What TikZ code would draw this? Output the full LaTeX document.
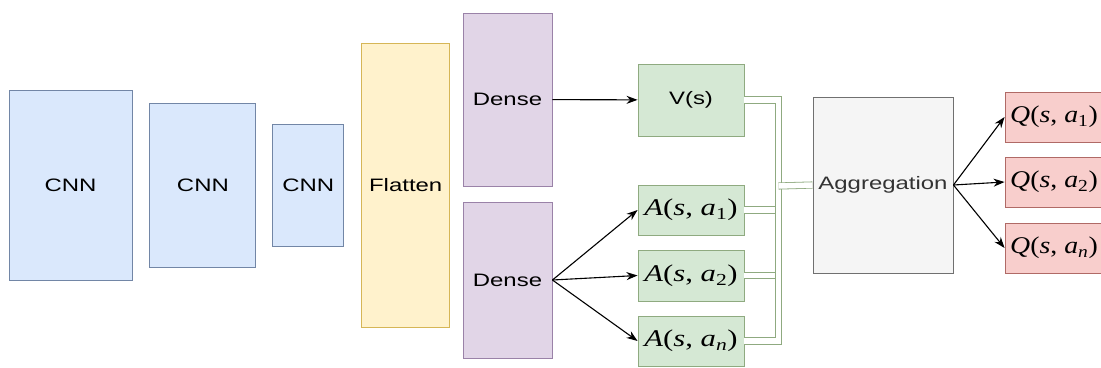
\documentclass[tikz,border=0pt]{standalone}
\usepackage{fontspec}
\usepackage{graphicx}
\newfontfamily\arialfont{Liberation Sans}
\newfontfamily\timesfont{Liberation Serif}
\usetikzlibrary{arrows.meta, positioning}

\definecolor{cnnfill}{HTML}{DAE8FC}
\definecolor{cnnline}{HTML}{7286A6}
\definecolor{flatfill}{HTML}{FFF2CC}
\definecolor{flatline}{HTML}{D6B656}
\definecolor{densefill}{HTML}{E1D5E7}
\definecolor{denseline}{HTML}{9A82A8}
\definecolor{headfill}{HTML}{D5E8D4}
\definecolor{headline}{HTML}{8FAA80}
\definecolor{aggfill}{HTML}{F5F5F5}
\definecolor{aggline}{HTML}{707070}
\definecolor{qfill}{HTML}{F8CECC}
\definecolor{qline}{HTML}{B06A66}

% wide sans labels and stretched function labels
\newcommand{\wlabel}[1]{\scalebox{1.33}[1]{\arialfont #1}}
\newcommand{\fnlabel}[3]{\scalebox{#1}[1]{\timesfont\textit{#2}(\textit{s}, \textit{a}\textsubscript{#3})}}

\begin{document}
\begin{tikzpicture}[
			x=1pt, y=-1pt,
			box/.style={draw, line width=0.9pt, inner sep=0pt, text=black, font=\fontsize{18}{20}\selectfont},
			cnn/.style={box, draw=cnnline, fill=cnnfill},
			flat/.style={box, draw=flatline, fill=flatfill},
			dense/.style={box, draw=denseline, fill=densefill, minimum width=89pt},
			head/.style={box, draw=headline, fill=headfill, minimum width=106pt, font=\fontsize{24}{26}\selectfont},
			agg/.style={box, draw=aggline, fill=aggfill},
			qval/.style={box, draw=qline, fill=qfill, minimum width=98pt, minimum height=50pt, font=\fontsize{24}{26}\selectfont},
			edge/.style={-{Stealth[length=11pt, width=8pt]}, line width=1.1pt},
			link/.style={draw=headline, line width=0.8pt, double=white, double distance=5.5pt}
			]
			\useasboundingbox (0,0) rectangle (1101,367);
			
			% ---------------- FEATURE EXTRACTOR ----------------
			\node[cnn, minimum width=123pt, minimum height=190pt] (cnnA) at (70.5,185) {\wlabel{CNN}};
			\node[cnn, minimum width=106pt, minimum height=164pt, right=17pt of cnnA] (cnnB) {\wlabel{CNN}};
			\node[cnn, minimum width=71pt, minimum height=122pt, right=16pt of cnnB] (cnnC) {\wlabel{CNN}};
			\node[flat, minimum width=88pt, minimum height=284pt, right=17pt of cnnC] (flat) {\wlabel{Flatten}};
			
			% ---------------- TWO STREAMS ----------------
			\node[dense, minimum height=173pt] (denseV) at (507.5,99.5) {\wlabel{Dense}};
			\node[dense, minimum height=156pt] (denseA) at (507.5,280) {\wlabel{Dense}};
			
			\node[head, minimum height=72pt, font=\fontsize{18}{20}\selectfont] (vs) at (691,100) {\wlabel{V(s)}};
			\node[head, minimum height=50pt] (advA) at (691,210) {\fnlabel{1.28}{A}{1}};
			\node[head, minimum height=51pt] (advB) at (691,275.5) {\fnlabel{1.28}{A}{2}};
			\node[head, minimum height=50pt] (advN) at (691,341) {\fnlabel{1.28}{A}{\textit{n}}};
			
			\draw[edge] (denseV) -- (vs);
			\draw[edge] (denseA.east) -- (advA.west);
			\draw[edge] (denseA.east) -- (advB.west);
			\draw[edge] (denseA.east) -- (advN.west);
			
			% ---------------- AGGREGATION ----------------
			\node[agg, minimum width=140pt, minimum height=176pt] (agg) at (883,185) {\wlabel{\color{black!80}Aggregation}};
			\coordinate (bus) at (778.5,186);
			
			\draw[link] (vs.east) -| (bus);
			\draw[link] (advA.east) -| (bus);
			\draw[link] (advB.east) -| (bus);
			\draw[link] (advN.east) -| (bus);
			\draw[link] (bus) -- (agg.west);
			
			% ---------------- Q VALUES ----------------
			\node[qval] (qA) at (1054,117) {\fnlabel{1.16}{Q}{1}};
			\node[qval] (qB) at (1054,182) {\fnlabel{1.16}{Q}{2}};
			\node[qval] (qN) at (1054,248) {\fnlabel{1.16}{Q}{\textit{n}}};
			
			\draw[edge] (agg.east) -- (qA.west);
			\draw[edge] (agg.east) -- (qB.west);
			\draw[edge] (agg.east) -- (qN.west);
			
		\end{tikzpicture}
\end{document}
